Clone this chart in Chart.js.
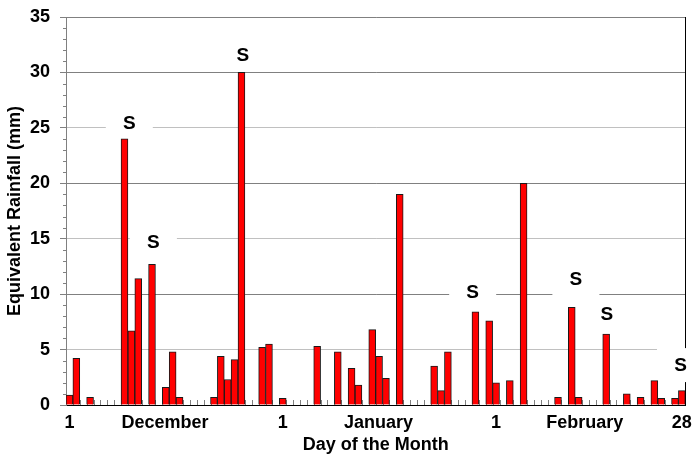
<!DOCTYPE html>
<html>
<head>
<meta charset="utf-8">
<script src="https://cdn.jsdelivr.net/npm/chart.js@4/dist/chart.umd.min.js"></script>
<style>
html,body{margin:0;padding:0;background:#fff;}
#wrap{width:693px;height:454px;}
</style>
</head>
<body>
<div id="wrap"><canvas id="c" width="693" height="454"></canvas></div>
<script>
// Day index (1 = 1 December ... 90 = 28 February)
const days = [
  1,2,3,4,5,6,7,8,9,10,11,12,13,14,15,16,17,18,19,20,21,22,23,24,25,26,27,28,29,30,31,
  32,33,34,35,36,37,38,39,40,41,42,43,44,45,46,47,48,49,50,51,52,53,54,55,56,57,58,59,60,61,62,
  63,64,65,66,67,68,69,70,71,72,73,74,75,76,77,78,79,80,81,82,83,84,85,86,87,88,89,90
];
// Equivalent rainfall (mm) per day
const rainfall = [
  0.9,4.2,0,0.7,0,0,0,0,24.0,6.7,11.4,0,12.7,0,1.6,4.8,0.7,0,0,0,0,0.7,4.4,2.3,4.1,30.0,0,0,5.2,5.5,0,
  0.6,0,0,0,0,5.3,0,0,4.8,0,3.3,1.8,0,6.8,4.4,2.4,0,19.0,0,0,0,0,3.5,1.3,4.8,0,0,0,8.4,0,7.6,
  2.0,0,2.2,0,20.0,0,0,0,0,0.7,0,8.8,0.7,0,0,0,6.4,0,0,1.0,0,0.7,0,2.2,0.6,0,0.6,1.3
];
// X-axis tick labels (day position, text)
const tickDays = [1, 14.9, 32, 45.9, 63, 75.9, 90];
const tickText = ["1", "December", "1", "January", "1", "February", "28"];
// Snow markers "S" (day position, level in mm)
const snowX = [9.7, 13.2, 26.2, 59.6, 74.6, 79.1, 89.8];
const snowY = [25.5, 14.7, 31.6, 10.2, 11.4, 8.2, 3.6];
const snowText = "S";

const FONT = "Arial, 'Liberation Sans', sans-serif";

const decor = {
  id: 'decor',
  beforeDatasetsDraw(chart) {
    const {ctx, chartArea: a, scales: {x, y}} = chart;
    ctx.save();
    // right frame line
    ctx.strokeStyle = '#000';
    ctx.lineWidth = 1;
    ctx.beginPath();
    ctx.moveTo(Math.round(a.right) + 0.5, a.top);
    ctx.lineTo(Math.round(a.right) + 0.5, a.bottom);
    ctx.stroke();
    // y minor ticks (every 1 mm)
    ctx.strokeStyle = '#808080';
    ctx.beginPath();
    for (let v = 1; v < 35; v++) {
      if (v % 5 === 0) continue;
      const py = Math.round(y.getPixelForValue(v)) + 0.5;
      ctx.moveTo(a.left - 3, py);
      ctx.lineTo(a.left, py);
    }
    ctx.stroke();
    // x minor ticks at day boundaries (pointing up)
    ctx.beginPath();
    for (let k = 1; k < days.length; k++) {
      const px = Math.round(x.getPixelForValue(days[k - 1] + 0.5)) + 0.5;
      ctx.moveTo(px, a.bottom);
      ctx.lineTo(px, a.bottom - 5);
    }
    ctx.stroke();
    // snow markers with white label boxes
    ctx.font = "bold 19px " + FONT;
    ctx.textAlign = 'center';
    ctx.textBaseline = 'middle';
    for (let i = 0; i < snowX.length; i++) {
      const px = x.getPixelForValue(snowX[i]);
      const py = y.getPixelForValue(snowY[i]);
      ctx.fillStyle = '#fff';
      ctx.fillRect(px - 23.5, py - 17, 47, 34);
      ctx.fillStyle = '#000';
      ctx.fillText(snowText, px, py + 1);
    }
    ctx.restore();
  }
};

new Chart(document.getElementById('c'), {
  type: 'bar',
  data: {
    datasets: [{
      data: days.map((d, i) => ({x: d, y: rainfall[i]})),
      backgroundColor: '#ff0000',
      borderColor: '#1a1a1a',
      borderWidth: 1,
      barPercentage: 1,
      categoryPercentage: 1
    }]
  },
  options: {
    responsive: false,
    animation: false,
    devicePixelRatio: 1,
    layout: {padding: {left: 0, right: 7.7, top: 17, bottom: 0}},
    plugins: {legend: {display: false}, tooltip: {enabled: false}},
    scales: {
      x: {
        type: 'linear',
        min: 0.5,
        max: 90.5,
        offset: false,
        afterBuildTicks: s => { s.ticks = tickDays.map(v => ({value: v})); },
        afterFit: s => { s.height = 49; s.paddingLeft = 0; s.paddingRight = 0; },
        ticks: {
          autoSkip: false, maxRotation: 0, minRotation: 0, padding: 7, color: '#000',
          font: {family: FONT, size: 18, weight: 'bold'},
          callback: (v, i) => tickText[i]
        },
        grid: {display: false, drawTicks: false},
        border: {display: true, color: '#000', width: 1},
        title: {
          display: true, text: 'Day of the Month', color: '#000', padding: 0,
          font: {family: FONT, size: 18, weight: 'bold', lineHeight: 1}
        }
      },
      y: {
        min: 0,
        max: 35,
        afterFit: s => { s.width = 66; s.paddingTop = 0; s.paddingBottom = 0; },
        ticks: {
          stepSize: 5, padding: 10, color: '#000',
          font: {family: FONT, size: 18, weight: 'bold'}
        },
        grid: {
          color: c => (c.tick && (c.tick.value % 10 === 0 || c.tick.value === 35)) ? '#808080' : '#c0c0c0',
          tickColor: '#808080',
          tickLength: 6,
          lineWidth: 1
        },
        border: {display: true, color: '#808080', width: 1},
        title: {
          display: true, text: 'Equivalent Rainfall (mm)', color: '#000',
          padding: {top: 6, bottom: 0},
          font: {family: FONT, size: 18, weight: 'bold', lineHeight: 1}
        }
      }
    }
  },
  plugins: [decor]
});
</script>
</body>
</html>
